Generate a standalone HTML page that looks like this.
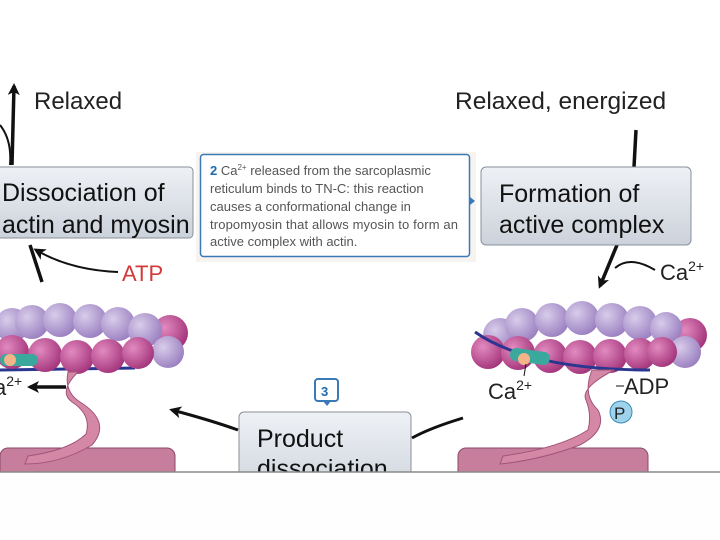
<!DOCTYPE html>
<html><head><style>
body{margin:0;background:#fff;}
svg{display:block;font-family:"Liberation Sans",sans-serif;}
</style></head><body>
<svg width="720" height="540" viewBox="0 0 720 540">
<defs>
<linearGradient id="bx" x1="0" y1="0" x2="0" y2="1"><stop offset="0" stop-color="#eef1f5"/><stop offset="1" stop-color="#ccd2db"/></linearGradient>
<radialGradient id="pu" cx="0.35" cy="0.35" r="0.7"><stop offset="0" stop-color="#d8ccea"/><stop offset="1" stop-color="#9a7fc0"/></radialGradient>
<radialGradient id="pk" cx="0.35" cy="0.35" r="0.7"><stop offset="0" stop-color="#e28ac0"/><stop offset="1" stop-color="#a3347a"/></radialGradient>
<marker id="ar" markerWidth="12" markerHeight="12" refX="9" refY="6" orient="auto" markerUnits="userSpaceOnUse"><path d="M0,0 L12,6 L0,12 L3,6z" fill="#111"/></marker>
</defs>
<rect width="720" height="540" fill="#fff"/>
<path d="M12,165 L14,86" stroke="#111" stroke-width="3.5" fill="none" marker-end="url(#ar)"/>
<path d="M0,125 Q12,140 10,165" stroke="#111" stroke-width="2" fill="none"/>
<text x="34" y="109" font-size="24" fill="#222">Relaxed</text>
<text x="455" y="109" font-size="24.5" fill="#222">Relaxed, energized</text>
<path d="M636,130 L634,167" stroke="#111" stroke-width="3.5"/>
<path d="M617,245 L600,286" stroke="#111" stroke-width="3.5" fill="none" marker-end="url(#ar)"/>
<path d="M655,270 Q630,255 615,268" stroke="#111" stroke-width="2" fill="none"/>
<text x="660" y="280" font-size="22" fill="#222">Ca<tspan dy="-9" font-size="14">2+</tspan></text>
<path d="M42,282 L30,245" stroke="#111" stroke-width="3.5"/>
<path d="M118,272 Q70,270 36,250" stroke="#111" stroke-width="2" fill="none" marker-end="url(#ar)"/>
<text x="122" y="281" font-size="22" fill="#d23a3a">ATP</text>
<rect x="-6" y="167" width="199" height="71" rx="4" fill="url(#bx)" stroke="#8a9099"/>
<text x="2" y="201" font-size="25" fill="#111">Dissociation of</text>
<text x="2" y="233" font-size="25" fill="#111">actin and myosin</text>
<rect x="481" y="167" width="210" height="78" rx="5" fill="url(#bx)" stroke="#8a9099"/>
<text x="499" y="202" font-size="25" fill="#111">Formation of</text>
<text x="499" y="233" font-size="25" fill="#111">active complex</text>
<g>
<line x1="0" y1="370" x2="135" y2="368" stroke="#2a3690" stroke-width="3"/>
<circle cx="170" cy="333" r="18" fill="url(#pk)"/>
<circle cx="12" cy="325" r="17" fill="url(#pu)"/><circle cx="32" cy="322" r="17" fill="url(#pu)"/><circle cx="60" cy="320" r="17" fill="url(#pu)"/><circle cx="90" cy="321" r="17" fill="url(#pu)"/><circle cx="118" cy="324" r="17" fill="url(#pu)"/><circle cx="145" cy="330" r="17" fill="url(#pu)"/><circle cx="168" cy="352" r="16" fill="url(#pu)"/>
<circle cx="12" cy="352" r="17" fill="url(#pk)"/><circle cx="45" cy="355" r="17" fill="url(#pk)"/><circle cx="77" cy="357" r="17" fill="url(#pk)"/><circle cx="108" cy="356" r="17" fill="url(#pk)"/><circle cx="138" cy="353" r="16" fill="url(#pk)"/>
<rect x="0" y="354" width="38" height="12" rx="6" fill="#3aa89c"/>
<circle cx="10" cy="360" r="6" fill="#f3b48a"/>
<text x="-6" y="395" font-size="22" fill="#222">a<tspan dy="-9" font-size="14">2+</tspan></text>
<path d="M66,387 L30,387" stroke="#111" stroke-width="3.5" marker-end="url(#ar)"/>
<rect x="0" y="448" width="175" height="40" rx="8" fill="#c77e9c" stroke="#8a4a6a"/>
<path d="M68,372 Q64,392 80,402 Q112,422 92,445 Q60,464 25,464 L28,456 Q70,450 86,434 Q92,415 72,402 Q58,392 78,372z" fill="#d488a6" stroke="#a25478"/>
</g>
<g>
<circle cx="690" cy="335" r="17" fill="url(#pk)"/>
<circle cx="500" cy="335" r="17" fill="url(#pu)"/><circle cx="522" cy="325" r="17" fill="url(#pu)"/><circle cx="552" cy="320" r="17" fill="url(#pu)"/><circle cx="582" cy="318" r="17" fill="url(#pu)"/><circle cx="612" cy="320" r="17" fill="url(#pu)"/><circle cx="640" cy="323" r="17" fill="url(#pu)"/><circle cx="666" cy="328" r="16" fill="url(#pu)"/><circle cx="685" cy="352" r="16" fill="url(#pu)"/>
<circle cx="488" cy="352" r="17" fill="url(#pk)"/><circle cx="518" cy="353" r="17" fill="url(#pk)"/><circle cx="550" cy="356" r="17" fill="url(#pk)"/><circle cx="580" cy="357" r="17" fill="url(#pk)"/><circle cx="610" cy="356" r="17" fill="url(#pk)"/><circle cx="640" cy="354" r="16" fill="url(#pk)"/><circle cx="662" cy="352" r="15" fill="url(#pk)"/>
<path d="M475,332 Q530,370 650,370" stroke="#2a3690" stroke-width="3" fill="none"/>
<rect x="510" y="350" width="40" height="13" rx="6" fill="#3aa89c" transform="rotate(8 530 356)"/>
<circle cx="524" cy="359" r="6" fill="#f3b48a"/>
<text x="488" y="399" font-size="22" fill="#222">Ca<tspan dy="-9" font-size="14">2+</tspan></text>
<line x1="526" y1="364" x2="524" y2="376" stroke="#111"/>
<rect x="458" y="448" width="190" height="40" rx="8" fill="#c77e9c" stroke="#8a4a6a"/>
<path d="M592,370 Q582,395 598,410 Q608,430 580,445 Q540,460 500,464 L503,456 Q560,448 588,430 Q592,415 586,400 Q580,388 614,370z" fill="#d488a6" stroke="#a25478"/>
<text x="624" y="394" font-size="22" fill="#222">ADP</text>
<line x1="616" y1="386" x2="624" y2="386" stroke="#111"/>
<circle cx="621" cy="412" r="11" fill="#9fd3ec" stroke="#3a8ab8"/>
<text x="614" y="419" font-size="17" fill="#222">P</text>
</g>
<path d="M238,430 Q210,420 172,410" stroke="#111" stroke-width="3" fill="none" marker-end="url(#ar)"/>
<path d="M412,438 Q430,428 463,418" stroke="#111" stroke-width="3" fill="none"/>
<rect x="239" y="412" width="172" height="90" rx="5" fill="url(#bx)" stroke="#8a9099"/>
<text x="257" y="447" font-size="25" fill="#111">Product</text>
<text x="257" y="477" font-size="25" fill="#111">dissociation</text>
<rect x="315" y="379" width="23" height="22" rx="3" fill="#fff" stroke="#3a7ab8" stroke-width="2"/>
<path d="M323,401 L327,406 L331,401z" fill="#3a7ab8"/>
<text x="321" y="396" font-size="13" font-weight="bold" fill="#1e6ab0">3</text>
<rect x="0" y="472" width="720" height="68" fill="#fefefe"/>
<line x1="0" y1="472" x2="720" y2="472" stroke="#888" stroke-width="1.5"/>
<rect x="196" y="152" width="280" height="110" fill="#f2ebe4" opacity="0.6"/>
<rect x="200.5" y="154.5" width="269" height="102" rx="3" fill="#fff" stroke="#3a7ab8" stroke-width="1.5"/>
<path d="M470,197 L475,201 L470,205z" fill="#3a7ab8"/>
<g font-size="13" fill="#555">
<text x="210" y="175"><tspan fill="#1e6ab0" font-weight="bold">2</tspan> Ca<tspan dy="-5" font-size="8">2+</tspan><tspan dy="5"> released from the sarcoplasmic</tspan></text>
<text x="210" y="193">reticulum binds to TN-C: this reaction</text>
<text x="210" y="211">causes a conformational change in</text>
<text x="210" y="229" textLength="248">tropomyosin that allows myosin to form an</text>
<text x="210" y="246">active complex with actin.</text>
</g>
</svg>
</body></html>
